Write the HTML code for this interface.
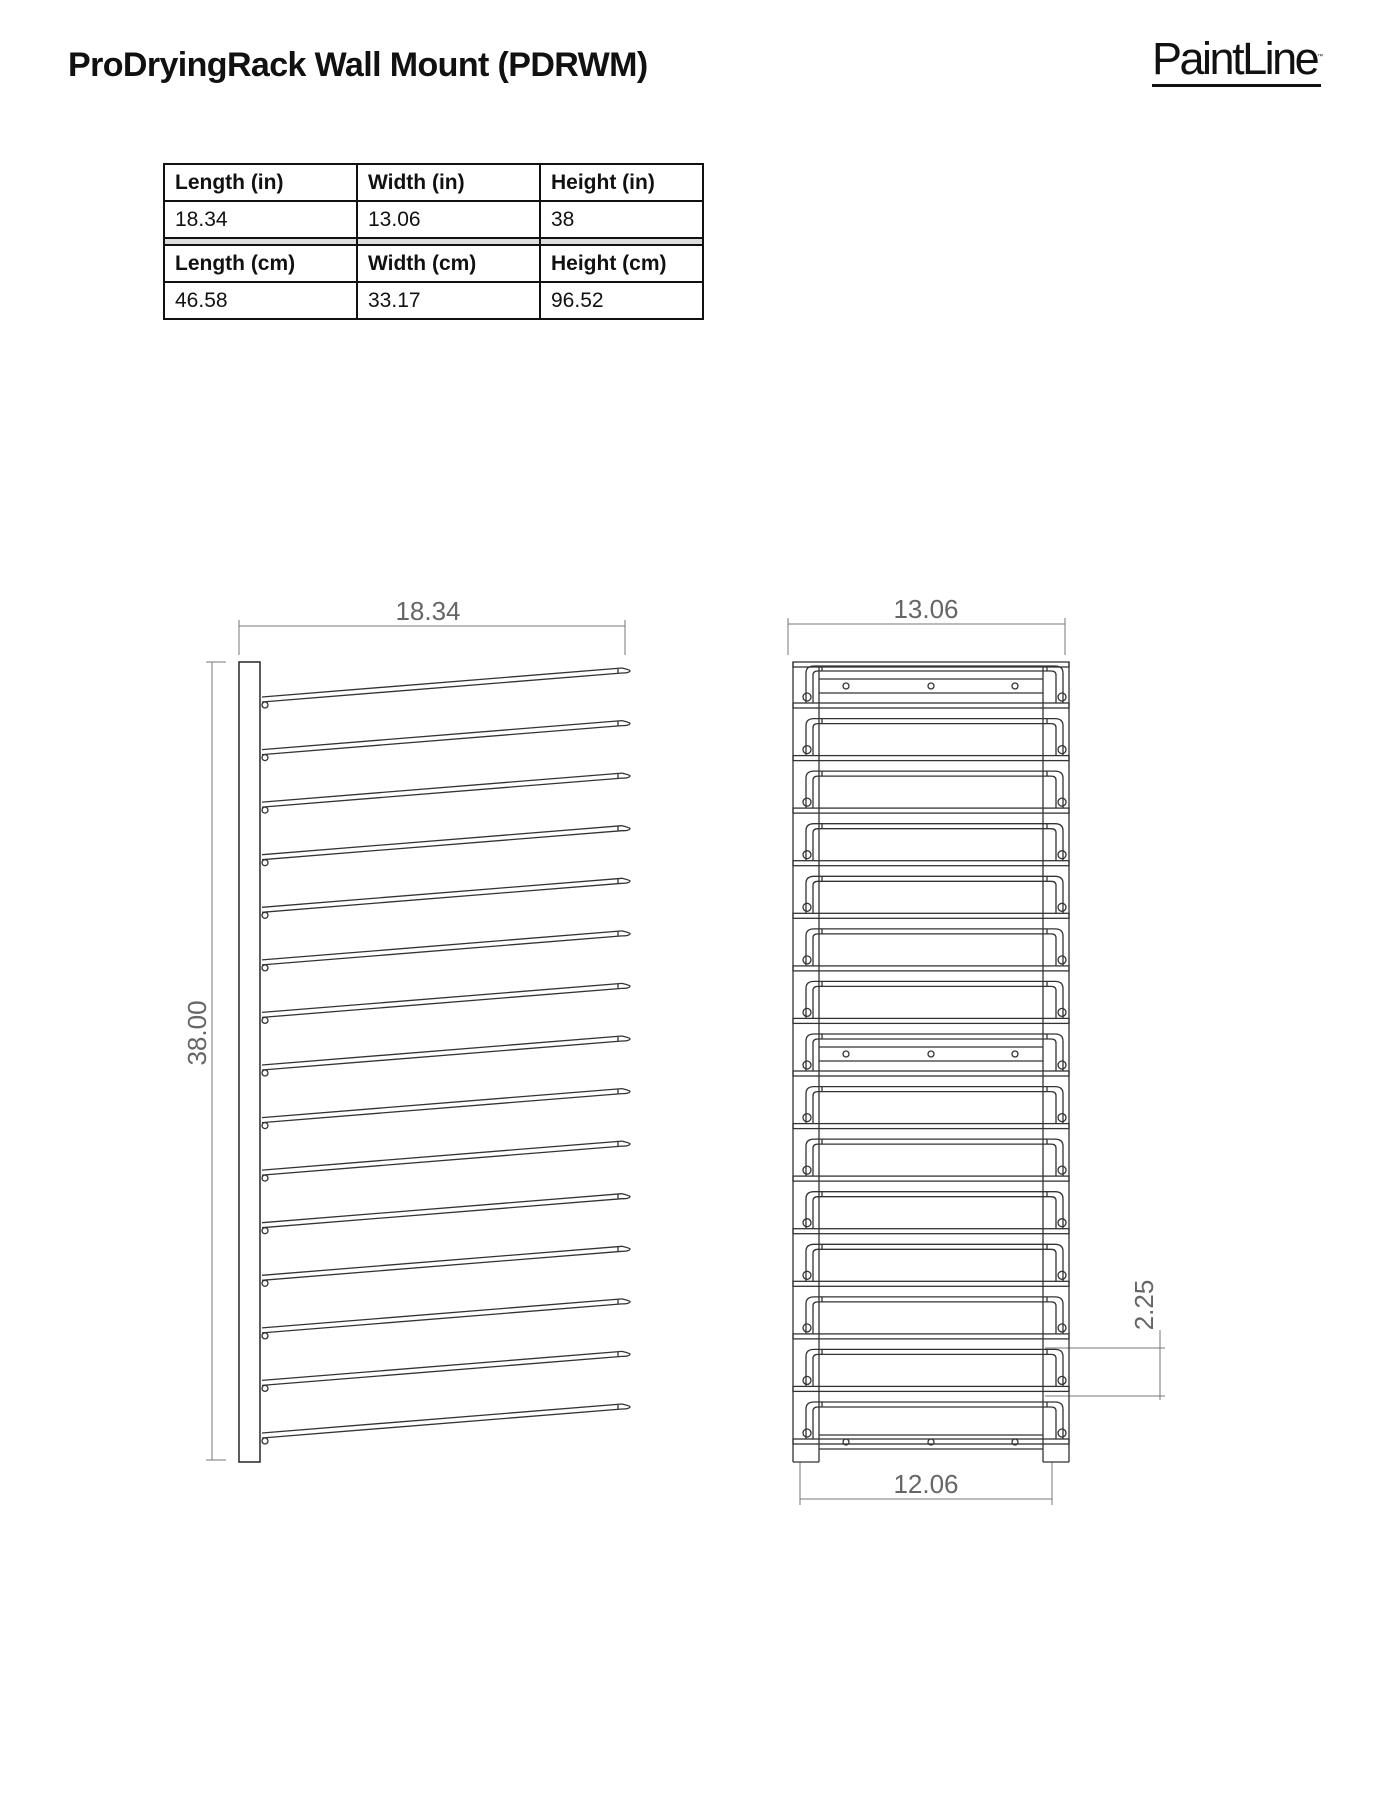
<!DOCTYPE html>
<html><head><meta charset="utf-8"><style>
body{margin:0;background:#fff;}
.wrap{position:relative;width:1391px;height:1800px;overflow:hidden;}
.title{position:absolute;left:68px;top:46px;font:bold 34px "Liberation Sans",sans-serif;color:#111;letter-spacing:-0.6px;}
.logo{position:absolute;left:1152px;top:32px;font:45px "Liberation Sans",sans-serif;letter-spacing:-2.5px;color:#111;border-bottom:3px solid #111;line-height:50px;}
table{position:absolute;left:163px;top:163px;border-collapse:collapse;font:21px "Liberation Sans",sans-serif;color:#111;}
td{border:2px solid #111;padding:0 10px;height:35px;}
td.b{font-weight:bold;}
tr.gap td{height:5px;padding:0;background:#ddd;}
</style></head><body><div class="wrap">
<div class="title">ProDryingRack Wall Mount (PDRWM)</div>
<div class="logo">PaintLine<sup style="font-size:6px">™</sup></div>
<table>
<col style="width:193px"><col style="width:183px"><col style="width:163px">
<tr><td class="b">Length (in)</td><td class="b">Width (in)</td><td class="b">Height (in)</td></tr>
<tr><td>18.34</td><td>13.06</td><td>38</td></tr>
<tr class="gap"><td></td><td></td><td></td></tr>
<tr><td class="b">Length (cm)</td><td class="b">Width (cm)</td><td class="b">Height (cm)</td></tr>
<tr><td>46.58</td><td>33.17</td><td>96.52</td></tr>
</table>
<svg width="1391" height="1800" style="position:absolute;left:0;top:0" fill="none" stroke="#333" stroke-width="1.3">
<defs>
<g id="rod"><path d="M262 0 L622 -29 M262 5 L622 -24"/><path d="M622 -29 Q630 -27 630 -26.5 Q630 -24 622 -24" /><line x1="618" y1="-28.5" x2="618" y2="-23.5"/><circle cx="265" cy="8" r="3"/></g>
<g id="shelf"><rect x="793" y="0" width="276" height="5"/>
<path d="M806 0 V-30 Q806 -37 814 -37 H1055 Q1063 -37 1063 -30 V0"/>
<path d="M813 0 V-28 Q813 -32 818 -32 H1051 Q1056 -32 1056 -28 V0"/>
<line x1="822" y1="-37" x2="822" y2="-32"/><line x1="1047" y1="-37" x2="1047" y2="-32"/>
<circle cx="807" cy="-6" r="4"/><circle cx="1062" cy="-6" r="4"/></g>
<g id="plate"><line x1="819" y1="-24" x2="1043" y2="-24"/><line x1="819" y1="-10" x2="1043" y2="-10"/><circle cx="846" cy="-17" r="3"/><circle cx="931" cy="-17" r="3"/><circle cx="1015" cy="-17" r="3"/></g>
</defs>
<g stroke="#777" stroke-width="1"><line x1="239" y1="626" x2="625" y2="626"/><line x1="239" y1="620" x2="239" y2="655"/><line x1="625" y1="620" x2="625" y2="655"/>
<line x1="212" y1="662" x2="212" y2="1460"/><line x1="206" y1="662" x2="226" y2="662"/><line x1="206" y1="1460" x2="226" y2="1460"/></g>
<rect x="239" y="662" width="21" height="800" stroke-width="1.6"/>
<use href="#rod" y="697"/><use href="#rod" y="749.6"/><use href="#rod" y="802.1"/><use href="#rod" y="854.7"/><use href="#rod" y="907.3"/><use href="#rod" y="959.9"/><use href="#rod" y="1012.4"/><use href="#rod" y="1065"/><use href="#rod" y="1117.6"/><use href="#rod" y="1170.1"/><use href="#rod" y="1222.7"/><use href="#rod" y="1275.3"/><use href="#rod" y="1327.9"/><use href="#rod" y="1380.4"/><use href="#rod" y="1433"/>
<g fill="#666" stroke="none" font-family="Liberation Sans, sans-serif" font-size="26"><text x="428" y="620" text-anchor="middle">18.34</text>
<text transform="translate(206 1033) rotate(-90)" text-anchor="middle">38.00</text>
<text x="926" y="618" text-anchor="middle">13.06</text>
<text x="926" y="1493" text-anchor="middle">12.06</text>
<text transform="translate(1153 1305) rotate(-90)" text-anchor="middle">2.25</text></g>
<g stroke="#777" stroke-width="1"><line x1="788" y1="624" x2="1065" y2="624"/><line x1="788" y1="618" x2="788" y2="655"/><line x1="1065" y1="618" x2="1065" y2="655"/>
<line x1="800" y1="1499" x2="1052" y2="1499"/><line x1="800" y1="1462" x2="800" y2="1505"/><line x1="1052" y1="1462" x2="1052" y2="1505"/>
<line x1="1160" y1="1330" x2="1160" y2="1400"/><line x1="1045" y1="1348" x2="1165" y2="1348"/><line x1="1045" y1="1396" x2="1165" y2="1396"/></g>
<rect x="793" y="662" width="276" height="5"/>
<line x1="793" y1="662" x2="793" y2="1462"/><line x1="1069" y1="662" x2="1069" y2="1462"/>
<line x1="819" y1="667" x2="819" y2="1462"/><line x1="1043" y1="667" x2="1043" y2="1462"/>
<line x1="793" y1="1462" x2="819" y2="1462"/><line x1="1043" y1="1462" x2="1069" y2="1462"/>
<use href="#plate" y="703"/><use href="#plate" y="1071"/><use href="#plate" y="1459"/>
<use href="#shelf" y="703"/><use href="#shelf" y="755.6"/><use href="#shelf" y="808.1"/><use href="#shelf" y="860.7"/><use href="#shelf" y="913.3"/><use href="#shelf" y="965.9"/><use href="#shelf" y="1018.4"/><use href="#shelf" y="1071"/><use href="#shelf" y="1123.6"/><use href="#shelf" y="1176.1"/><use href="#shelf" y="1228.7"/><use href="#shelf" y="1281.3"/><use href="#shelf" y="1333.9"/><use href="#shelf" y="1386.4"/><use href="#shelf" y="1439"/>
</svg>
</div></body></html>
